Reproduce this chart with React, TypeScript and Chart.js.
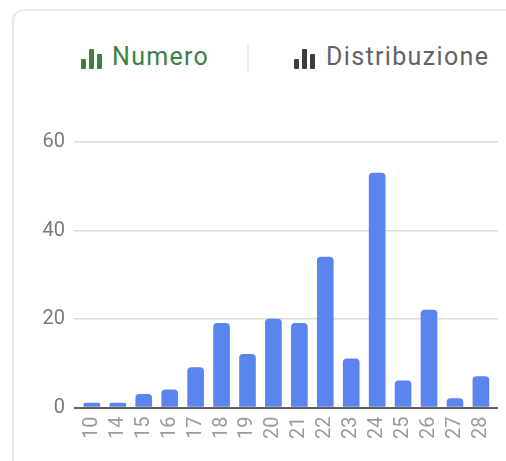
import React, { useEffect, useRef } from "react";
import { Chart, registerables } from "chart.js";

Chart.register(...registerables);

const categories = ["10","14","15","16","17","18","19","20","21","22","23","24","25","26","27","28"];
const values = [1,1,3,4,9,19,12,20,19,34,11,53,6,22,2,7];
const yTicks = [0,20,40,60];

const font = "Roboto, sans-serif";

function BarsIcon({ color, left }: { color: string; left: number }) {
  const bars = [[0,10,5],[8,0,5],[16,5,5]];
  return (
    <div style={{ position: "absolute", left, top: 49, width: 21, height: 20 }}>
      {bars.map(([x, t, w], i) => (
        <div key={i} style={{ position: "absolute", left: x, top: t, width: w, height: 20 - t, background: color, borderRadius: 1 }} />
      ))}
    </div>
  );
}

export default function App() {
  const ref = useRef<HTMLCanvasElement>(null);
  useEffect(() => {
    const chart = new Chart(ref.current!, {
      type: "bar",
      data: {
        datasets: [{
          data: values.map((v, i) => ({ x: i, y: v })),
          backgroundColor: "#5b85ee",
          barThickness: 16,
          borderRadius: { topLeft: 4, topRight: 4, bottomLeft: 0, bottomRight: 0 },
          borderSkipped: false,
        }],
      },
      options: {
        responsive: false,
        animation: false,
        layout: { padding: { left: 0, right: 8, top: 142, bottom: 0 } },
        plugins: { legend: { display: false }, tooltip: { enabled: false } },
        scales: {
          x: {
            type: "linear",
            offset: false,
            min: -0.69,
            max: 15.66,
            grid: { display: false, drawTicks: false },
            border: { display: false },
            afterBuildTicks: (s: any) => { s.ticks = categories.map((_, i) => ({ value: i })); },
            afterFit: (s: any) => { s.height = 461 - 407.5; s.paddingLeft = 0; s.paddingRight = 0; },
            ticks: {
              autoSkip: false,
              maxRotation: 90,
              minRotation: 90,
              padding: 9,
              color: "#9a9a9a",
              font: { family: font, size: 20 },
              callback: (v: any) => categories[Number(v)] ?? "",
            },
          },
          y: {
            min: 0,
            max: 60,
            afterBuildTicks: (s: any) => { s.ticks = yTicks.map((value) => ({ value })); },
            afterFit: (s: any) => { s.width = 74; s.paddingTop = 0; s.paddingBottom = 0; },
            grid: {
              drawTicks: false,
              lineWidth: (c: any) => (c.tick.value === 0 ? 2 : 1.5),
              color: (c: any) => (c.tick.value === 0 ? "#616161" : "#dcdcdc"),
            },
            border: { display: false },
            ticks: { padding: 9, color: "#7a7a7a", font: { family: font, size: 20 } },
          },
        },
      },
    } as any);
    return () => chart.destroy();
  }, []);
  return (
    <div style={{ position: "fixed", left: 0, top: 0, width: 506, height: 461, overflow: "hidden", background: "#fff", fontFamily: font, filter: "blur(0.5px)" }}>
      <div style={{ position: "absolute", left: 12, top: 9, width: 600, height: 600, border: "2px solid #e8e8ea", borderRadius: 12, boxSizing: "border-box" }} />
      <BarsIcon color="#3f7f3f" left={81} />
      <div style={{ position: "absolute", left: 112, top: 42, fontSize: 25, letterSpacing: 1.3, lineHeight: "30px", color: "#3c8146", whiteSpace: "nowrap" }}>Numero</div>
      <div style={{ position: "absolute", left: 247, top: 44, width: 2, height: 28, background: "#eeeeee" }} />
      <BarsIcon color="#3c3c3c" left={294} />
      <div style={{ position: "absolute", left: 326, top: 42, fontSize: 25, letterSpacing: 1.35, lineHeight: "30px", color: "#5f6368", whiteSpace: "nowrap" }}>Distribuzione</div>
      <canvas ref={ref} width={506} height={461} style={{ position: "absolute", left: 0, top: 0, display: "block" }} />
    </div>
  );
}
